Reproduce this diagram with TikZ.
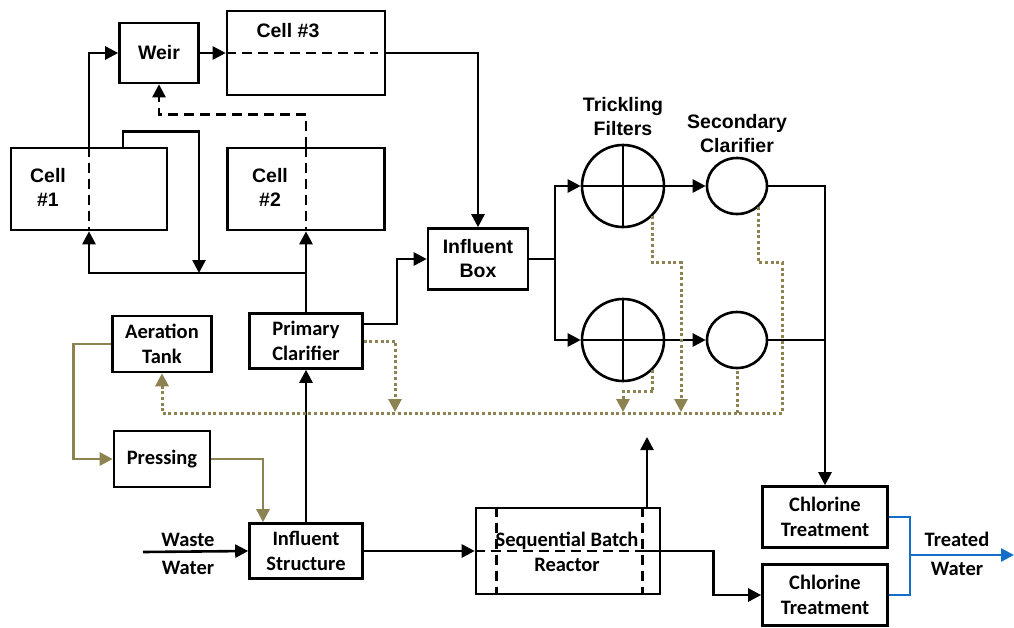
\documentclass[tikz,border=0pt]{standalone}
\usepackage{fontspec}
\usetikzlibrary{arrows.meta,positioning,shapes.geometric}
\newfontfamily\farl{Liberation Sans}
\newfontfamily\fcal{Carlito}
\definecolor{olv}{RGB}{140,130,82}
\definecolor{blu}{RGB}{20,110,200}

\begin{document}
\begin{tikzpicture}[x=1pt,y=-1pt,line width=2.6pt,->,>={Triangle[length=13pt,width=13pt]},
    box/.style={draw,-,rectangle,inner sep=0pt,align=center},
    arl/.style={font=\farl\bfseries\fontsize{19.5}{24}\selectfont,align=center},
    cal/.style={font=\fcal\bfseries\fontsize{20.5}{24.5}\selectfont,align=center},
    dash line/.style={dash pattern=on 10pt off 6pt},
    sludge/.style={olv,line width=3pt,dash pattern=on 3pt off 2.6pt},
    thin circle/.style={draw,-,circle,minimum size=82pt,inner sep=0pt}]

                \useasboundingbox (0,0) rectangle (1014,627);

                \node[box,arl,minimum width=79pt,minimum height=60pt] (weir) at (159,53) {Weir};
                \node[box,minimum width=158pt,minimum height=84pt] (c3) at (306,53) {};
                \node[arl] (c3t) at (288,31) {Cell \#3};
                \node[box,minimum width=156pt,minimum height=82pt] (c1) at (89,189) {};
                \node[arl] (c1t) at (48,187) {Cell\\\#1};
                \node[box,minimum width=157pt,minimum height=82pt] (c2) at (306,189) {};
                \node[arl] (c2t) at (270,187) {Cell\\\#2};
                \node[box,arl,minimum width=100pt,minimum height=61pt] (inbox) at (478,259) {Influent\\Box};

                \node[box,cal,minimum width=113pt,minimum height=55pt] (pc) at (306,341) {Primary\\Clarifier};
                \node[box,cal,minimum width=99pt,minimum height=56pt] (at) at (162,344) {Aeration\\Tank};
                \node[box,cal,minimum width=96pt,minimum height=56pt] (pr) at (162,459) {Pressing};
                \node[box,cal,minimum width=113pt,minimum height=55pt] (is) at (306,551) {Influent\\Structure};
                \node[box,minimum width=184pt,minimum height=86pt] (sbr) at (568,551) {};
                \node[box,cal,minimum width=125pt,minimum height=61pt] (ct1) at (825,517) {Chlorine\\Treatment};
                \node[box,cal,minimum width=125pt,minimum height=61pt] (ct2) at (825,595) {Chlorine\\Treatment};

                \node[arl] (tft) at (623,117) {Trickling\\Filters};
                \node[arl] (sct) at (737,134) {Secondary\\Clarifier};
                \node[cal] (wwt) at (188,554) {Waste\\[4pt]Water};
                \node[cal] (twt) at (957,554) {Treated\\[4pt]Water};

                \coordinate (sp) at (555,259);
                \coordinate (ww) at (143,552);
                \coordinate (j1) at (306,273);
                \coordinate (j2) at (199,273);
                \coordinate (up) at (647,437);
                \coordinate (bj) at (910,555);
                \coordinate (tw) at (1014,555);
                \coordinate (d0) at (395,412);
                \coordinate (d1) at (623,412);
                \coordinate (d2) at (681,412);
                \coordinate (d3) at (782,413);

                \foreach \i/\yy in {1/186,2/340}{
                    \node[thin circle] (tf\i) at (623,\yy) {};
                    \node[draw,-,ellipse,minimum width=60pt,minimum height=56pt,inner sep=0pt] (sc\i) at (737,\yy) {};
                    \draw[-,line width=2.3pt] (tf\i.north) -- (tf\i.south) (tf\i.west) -- (tf\i.east);
                    \draw (sp) |- (tf\i.west);
                    \draw (tf\i.east) -- (sc\i.west);
                }

                \draw[dash line,-] (c1.north) -- (c1.south);
                \draw[dash line,-] (c2.north) -- (c2.south);
                \draw[dash line,-] (c3.west) -- ([xshift=-8pt]c3.east);
                \draw[dash line,-] ([xshift=22pt]sbr.north west) -- ([xshift=22pt]sbr.south west);
                \draw[dash line,-] ([xshift=-19pt]sbr.north east) -- ([xshift=-19pt]sbr.south east);
                \draw[dash line,-] (sbr.west) -- ([xshift=-19pt]sbr.east);
                \node[cal] (sbrt) at (567,552) {Sequential Batch\\Reactor};

                \draw (c1.north) |- (weir.west);
                \draw (weir.east) -- (c3.west);
                \draw[dash line] (c2.north) -- ++(0,-32) -| (weir.south);
                \draw ([xshift=34pt,yshift=-2pt]c1.north) -- ++(0,-17) -| (j2);
                \draw (j1) -| (c1.south);
                \draw (pc.north) -- (c2.south);
                \draw (c3.east) -| (inbox.north);
                \draw ([yshift=17pt]pc.east) -- ++(33,0) |- (inbox.west);
                \draw[-] (inbox.east) -- (sp);
                \draw (sc1.east) -| (ct1.north);
                \draw[-] (sc2.east) -- (sc2.east -| ct1.north);

                \draw (ww) -- (is.west);
                \draw (is.north) -- (pc.south);
                \draw (is.east) -- (sbr.west);
                \draw (sbr.north -| up) -- (up);
                \draw ([xshift=-19pt]sbr.east) -- ++(71,0) |- (ct2.west);

                \draw[olv] (at.west) -- ++(-38,0) |- (pr.west);
                \draw[olv] (pr.east) -| ([xshift=-43pt]is.north);

                \draw[sludge] (pc.east) -| (d0);
                \draw[sludge] (tf1.-45) -- ++(0,47) -| (d2);
                \draw[sludge] (tf2.-45) -- ++(0,22) -| (d1);
                \draw[sludge,-] (sc1.-45) -- ++(0,55) -| (d3) -| (sc2.south);
                \draw[sludge] (sc2.south |- d3) -| (at.south);

                \draw[blu,-] (ct1.east) -| (bj) |- (ct2.east);
                \draw[blu] (bj) -- (tw);

            \end{tikzpicture}
\end{document}
